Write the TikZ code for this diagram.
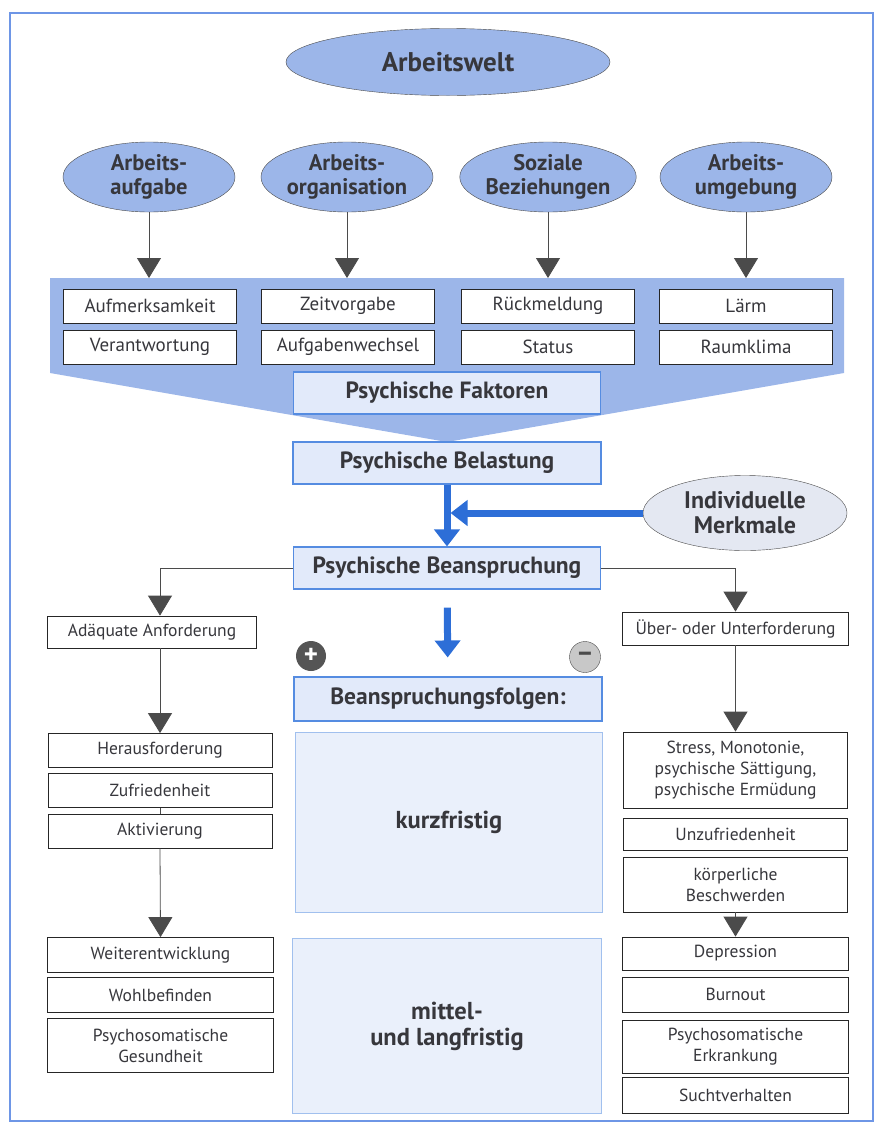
\documentclass[tikz,border=0pt]{standalone}
\usepackage{fontspec}
\setmainfont{PT Sans}
\usepackage{xcolor}
\usetikzlibrary{arrows, shapes, shapes.geometric, positioning, arrows.meta, calc}
\definecolor{frameblue}{RGB}{110,150,230}
\definecolor{ellblue}{RGB}{156,182,233}
\definecolor{boxblue}{RGB}{226,234,250}
\definecolor{lineblue}{RGB}{85,140,225}
\definecolor{paleblue}{RGB}{234,240,251}
\definecolor{arrowblue}{RGB}{45,110,215}
\definecolor{arrowgray}{RGB}{75,75,75}
\definecolor{textgray}{RGB}{55,55,60}
\definecolor{pluscol}{RGB}{85,85,85}
\definecolor{minuscol}{RGB}{200,200,200}
\definecolor{merkcol}{RGB}{228,232,242}
\tikzstyle{ell} = [ellipse, draw=arrowgray, fill=ellblue, text=textgray, align=center, inner sep=0pt, font=\bfseries\fontsize{22.5}{24}\selectfont]
\tikzstyle{wbox} = [rectangle, draw=black!85, fill=white, text=textgray, align=center, inner sep=0pt, line width=0.8pt, minimum width=224pt, minimum height=34pt, font=\fontsize{17.5}{21}\selectfont]
\tikzstyle{bbox} = [rectangle, draw=lineblue, fill=boxblue, text=textgray, inner sep=0pt, line width=1.1pt, minimum width=308pt, minimum height=42pt, font=\bfseries\fontsize{23.5}{25}\selectfont]
\tikzstyle{pbox} = [rectangle, draw=lineblue!55, fill=paleblue, text=textgray, align=center, inner sep=0pt, line width=1pt, minimum width=307pt, font=\bfseries\fontsize{24.5}{26}\selectfont]
\tikzstyle{garrow} = [draw=arrowgray, line width=0.8pt, -{Triangle[width=24pt,length=20pt]}]
\tikzstyle{barrow} = [draw=arrowblue, line width=7pt, -{Triangle[width=25pt,length=17pt]}]
\tikzset{
  fbox/.style={wbox, minimum width=173pt, font=\fontsize{19}{21}\selectfont},
  sign/.style={circle, inner sep=0pt, minimum size=#1, font=\bfseries\fontsize{27}{27}\selectfont}
}

\begin{document}
\begin{tikzpicture}[x=1pt, y=-1pt]
\useasboundingbox (0,0) rectangle (874,1125);
\draw[frameblue, line width=1.2pt] (10,13) rectangle (873,1121);

\node[ell, minimum width=324pt, minimum height=67pt, font=\bfseries\fontsize{27}{28}\selectfont] (welt) at (448,62) {Arbeitswelt};
\node[ell, minimum width=172pt, minimum height=70pt] (aufgabe) at (149,177) {Arbeits-\\aufgabe};
\node[ell, minimum width=172pt, minimum height=70pt] (organisation) at (347,177) {Arbeits-\\organisation};
\node[ell, minimum width=172pt, minimum height=70pt] (sozial) at (548,177) {Soziale\\Beziehungen};
\node[ell, minimum width=172pt, minimum height=70pt] (umgebung) at (746,177) {Arbeits-\\umgebung};

% Trichter
\coordinate (ftl) at (50,278);
\coordinate (ftr) at (844,278);
\coordinate (fbr) at (844,373);
\coordinate (fbot) at (447,442);
\coordinate (fbl) at (50,373);
\fill[ellblue] (ftl) -- (ftr) -- (fbr) -- (fbot) -- (fbl) -- cycle;

\foreach \e in {aufgabe, organisation, sozial, umgebung}
  \draw[garrow] (\e.south) -- (\e.south |- ftl);

\node[fbox] (aufmerk) at (150,306) {Aufmerksamkeit};
\node[fbox] (verantw) at (150,347) {Verantwortung};
\node[fbox] (zeit) at (348,306) {Zeitvorgabe};
\node[fbox] (wechsel) at (348,347) {Aufgabenwechsel};
\node[fbox] (rueck) at (548,306) {Rückmeldung};
\node[fbox] (status) at (548,347) {Status};
\node[fbox] (laerm) at (746,306) {Lärm};
\node[fbox] (klima) at (746,347) {Raumklima};

\node[bbox, minimum width=307pt] (faktoren) at (447,393) {Psychische Faktoren};
\node[bbox] (belastung) at (447,463) {Psychische Belastung};
\node[ell, fill=merkcol, minimum width=204pt, minimum height=75pt, font=\bfseries\fontsize{24}{25}\selectfont] (merkmale) at (745,513) {Individuelle\\Merkmale};
\node[bbox, minimum width=307pt] (beanspr) at (447,568) {Psychische Beanspruchung};

\draw[barrow] (belastung) -- (beanspr);
\draw[barrow] (merkmale.west) -- ($(merkmale.west -| belastung.south)+(3.5,0)$);

\node[wbox, minimum width=209pt, minimum height=32pt] (adaequat) at (152,632) {Adäquate Anforderung};
\node[wbox, minimum width=226pt, minimum height=33pt] (ueber) at (735.5,628.5) {Über- oder Unterforderung};

\node[sign=30pt, fill=pluscol, text=white] (plus) at (311,656) {+};
\node[sign=31pt, draw=arrowgray, fill=minuscol, text=arrowgray] (minus) at (585,657) {–};

\node[bbox, minimum height=44pt] (folgen) at (448,699) {Beanspruchungsfolgen:};
\draw[barrow, shorten <=18pt, shorten >=19pt] (beanspr) -- (folgen);
\node[pbox, minimum height=180pt] (kurz) at (449,822) {kurzfristig};
\node[pbox, minimum width=309pt, minimum height=175pt] (mittel) at (447,1026) {mittel-\\und langfristig};

% linke Seite
\node[wbox] (heraus) at (160,750.5) {Herausforderung};
\node[wbox] (zufrieden) at (160,790.5) {Zufriedenheit};
\node[wbox] (aktiv) at (160,831) {Aktivierung};
\node[wbox, minimum width=226pt, minimum height=35pt] (weiter) at (160.5,955) {Weiterentwicklung};
\node[wbox, minimum width=226pt, minimum height=35pt] (wohl) at (160.5,995) {Wohlbefinden};
\node[wbox, minimum width=226pt, minimum height=54pt] (gesund) at (160.5,1045.5) {Psychosomatische\\Gesundheit};

\draw[garrow] (beanspr.west) -| (heraus.north |- adaequat.north);
\draw[garrow] (heraus.north |- adaequat.south) -- (heraus.north);
\draw[arrowgray, line width=0.8pt] (zufrieden) -- (aktiv);
\draw[garrow] (aktiv.south) -- (weiter.north);

% rechte Seite
\node[wbox, minimum height=76pt] (stress) at (735.5,770) {Stress, Monotonie,\\psychische Sättigung,\\psychische Ermüdung};
\node[wbox, minimum height=32pt] (unzufrieden) at (735.5,834) {Unzufriedenheit};
\node[wbox, minimum height=55pt] (koerper) at (735.5,884.5) {körperliche\\Beschwerden};
\node[wbox, minimum width=226pt, minimum height=33pt] (depression) at (735.5,953.5) {Depression};
\node[wbox, minimum width=226pt, minimum height=35pt] (burnout) at (735.5,994.5) {Burnout};
\node[wbox, minimum width=226pt, minimum height=53pt] (erkrankung) at (735.5,1046.5) {Psychosomatische\\Erkrankung};
\node[wbox, minimum width=226pt, minimum height=36pt] (sucht) at (735.5,1095) {Suchtverhalten};

\draw[garrow] (beanspr.east) -| (ueber.north);
\draw[garrow] (ueber.south) -- (stress.north);
\draw[garrow] (koerper.south) -- (depression.north);
\end{tikzpicture}
\end{document}
